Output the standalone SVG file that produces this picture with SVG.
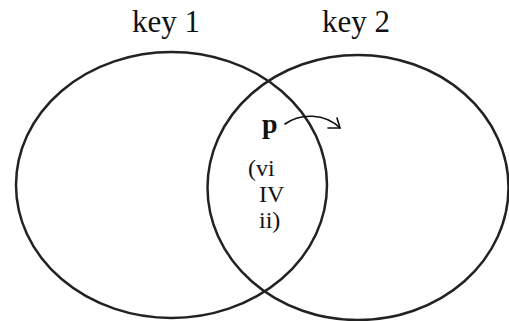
<svg xmlns="http://www.w3.org/2000/svg" width="509" height="321" viewBox="0 0 509 321">
<style>
.set{fill:none;stroke:#222;stroke-width:2.5}
.t{font-family:"Liberation Serif","Times New Roman",serif;fill:#111}
.conn{fill:none;stroke:#111;stroke-width:1.6;stroke-linecap:round;stroke-linejoin:round}
</style>
<rect width="509" height="321" fill="#fff"/>
<g id="set-key1">
<ellipse class="set" cx="171.5" cy="185" rx="155.5" ry="133"/>
<text class="t" x="132" y="32" font-size="31">key 1</text>
</g>
<g id="set-key2">
<ellipse class="set" cx="358" cy="187.5" rx="150.5" ry="132.5"/>
<text class="t" x="322" y="32" font-size="31">key 2</text>
</g>
<g id="node-p">
<text class="t" x="262" y="133" font-size="28" font-weight="bold">p</text>
</g>
<g id="node-chords">
<text class="t" x="248" y="176" font-size="24">(vi</text>
<text class="t" x="259" y="202" font-size="24">IV</text>
<text class="t" x="259" y="228" font-size="24">ii)</text>
</g>
<g id="connectors">
<path class="conn" d="M285,124 C300,113 325,113 340,128"/>
<path class="conn" d="M337,118 L340,128 L328,128"/>
</g>
</svg>
